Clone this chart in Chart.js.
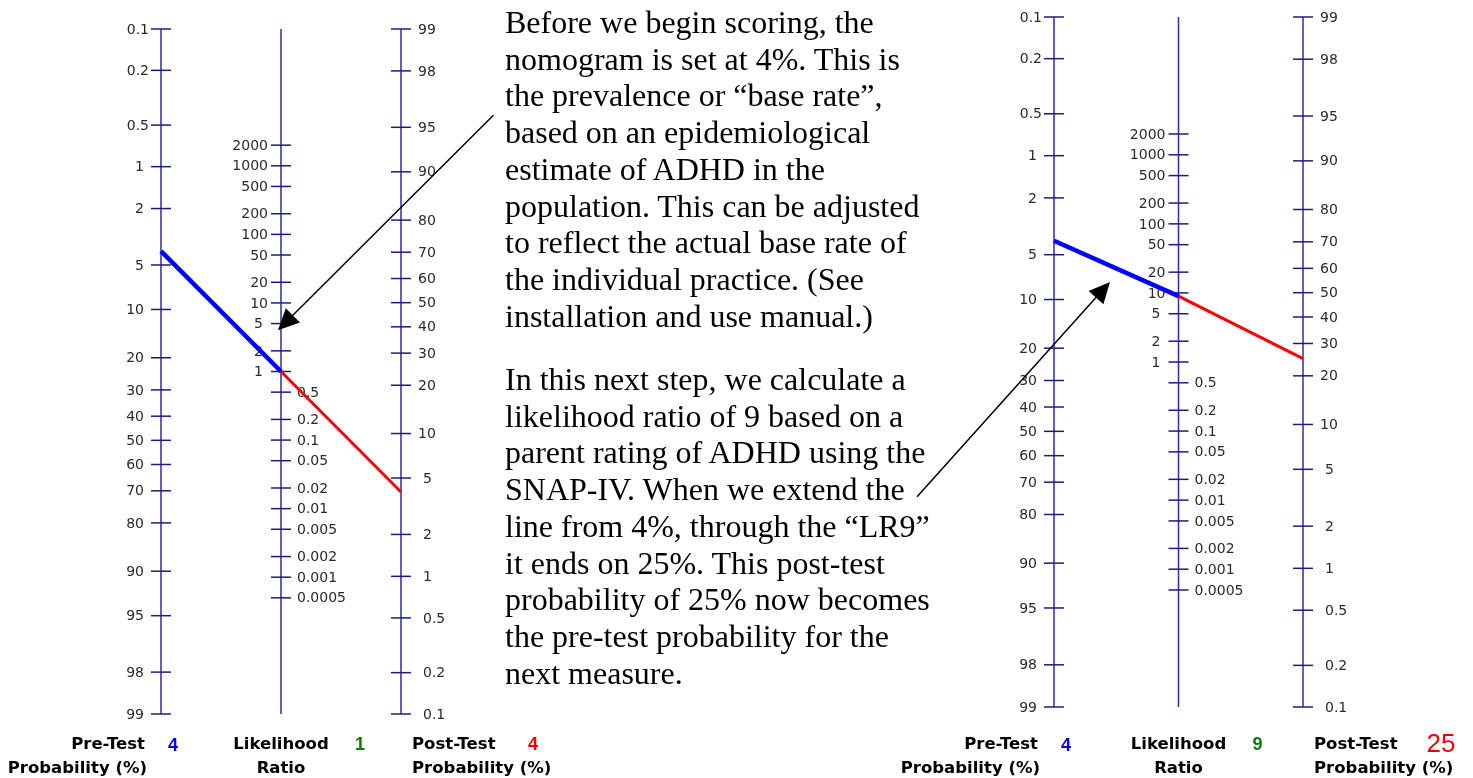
<!DOCTYPE html>
<html>
<head>
<meta charset="utf-8">
<script src="https://cdn.jsdelivr.net/npm/chart.js@4.4.1/dist/chart.umd.min.js"></script>
<style>
    html, body { margin: 0; padding: 0; background: #fff; }
    body { width: 1473px; height: 778px; position: relative; overflow: hidden; }
    canvas { position: absolute; top: 0; }
    #nomo-left { left: 0; }
    #nomo-right { left: 880px; }
    .note {
        position: absolute;
        left: 505px;
        z-index: 1;
        font: 32px "Liberation Serif", "Times New Roman", serif;
        line-height: 36.7px;
        white-space: pre;
        color: #000;
    }
</style>
</head>
<body>
<canvas id="nomo-left" width="570" height="778"></canvas>
<canvas id="nomo-right" width="593" height="778"></canvas>
<div class="note" style="top:4px">Before we begin scoring, the
nomogram is set at 4%. This is
the prevalence or “base rate”,
based on an epidemiological
estimate of ADHD in the
population. This can be adjusted
to reflect the actual base rate of
the individual practice. (See
installation and use manual.)</div>
<div class="note" style="top:361px">In this next step, we calculate a
likelihood ratio of 9 based on a
parent rating of ADHD using the
SNAP-IV. When we extend the
line from 4%, through the “LR9”
it ends on 25%. This post-test
probability of 25% now becomes
the pre-test probability for the
next measure.</div>
<script>
// Scale graduations, read top to bottom on each axis
const PRE_TICKS = [0.1, 0.2, 0.5, 1, 2, 5, 10, 20, 30, 40, 50, 60, 70, 80, 90, 95, 98, 99];
const LR_TICKS = [2000, 1000, 500, 200, 100, 50, 20, 10, 5, 2, 1,
    0.5, 0.2, 0.1, 0.05, 0.02, 0.01, 0.005, 0.002, 0.001, 0.0005];
const POST_TICKS = [99, 98, 95, 90, 80, 70, 60, 50, 40, 30, 20, 10, 5, 2, 1, 0.5, 0.2, 0.1];

// Readings of the two nomograms: [left = starting point, right = after the SNAP-IV]
const PRE_TEST = [4, 4];
const LIKELIHOOD = [1, 9];
const POST_TEST = [4, 25];

const AXIS_COLOR = '#2e2ea6';
const TICK_COLOR = '#1c1c7c';
const TEXT_COLOR = '#2a2a2a';
const TICK_FONT = '14px "DejaVu Sans", sans-serif';
const LABEL_FONT = 'bold 16.5px "DejaVu Sans", sans-serif';
const VALUE_FONT = 'bold 18px "Liberation Sans", Arial, sans-serif';

/**
 * Fagan geometry. Everything lives on one vertical unit (log-odds, growing downward):
 * the post-test scale is flipped and shifted so that 99 sits level with 0.1,
 * and the LR scale lies half way, which keeps pre -> LR -> post on one straight line.
 */
const logit = p => Math.log(p / (100 - p));
const Y_TOP = logit(PRE_TICKS[0]);
const Y_BOTTOM = logit(PRE_TICKS[PRE_TICKS.length - 1]);
const POST_SHIFT = Y_TOP + Y_BOTTOM;
const preY = p => logit(p);
const postY = p => POST_SHIFT - logit(p);
const lrY = lr => (POST_SHIFT - Math.log(lr)) / 2;

function tickPoints() {
    const pre = PRE_TICKS.map(v => ({
        x: 0, y: preY(v), text: String(v), side: 'left', gap: String(v).includes('.') ? 12 : 17
    }));
    const lr = LR_TICKS.map(v => v >= 1
        ? { x: 1, y: lrY(v), text: String(v), side: 'left', gap: String(v).length >= 2 ? 13 : 18 }
        : { x: 1, y: lrY(v), text: String(v), side: 'right', gap: 16 });
    const post = POST_TICKS.map(v => ({
        x: 2, y: postY(v), text: String(v), side: 'right', gap: Number.isInteger(v) && v >= 10 ? 17 : 22
    }));
    return [...pre, ...lr, ...post];
}

// Tick labels go under the reading line, as on the original printout
const tickLabels = {
    id: 'tickLabels',
    beforeDatasetsDraw(chart) {
        const { ctx, scales: { x, y } } = chart;
        const ticks = chart.data.datasets.find(d => d.id === 'ticks').data;
        ctx.save();
        ctx.font = TICK_FONT;
        ctx.fillStyle = TEXT_COLOR;
        ctx.textBaseline = 'middle';
        for (const t of ticks) {
            const px = x.getPixelForValue(t.x);
            const py = y.getPixelForValue(t.y);
            ctx.textAlign = t.side === 'left' ? 'right' : 'left';
            ctx.fillText(t.text, t.side === 'left' ? px - t.gap : px + t.gap, py + 1);
        }
        ctx.restore();
    }
};

const arrows = {
    id: 'arrows',
    afterDatasetsDraw(chart, args, opts) {
        const { ctx, scales: { x, y } } = chart;
        ctx.save();
        ctx.strokeStyle = '#000';
        ctx.fillStyle = '#000';
        ctx.lineWidth = 1.5;
        for (const a of opts.items || []) {
            const x0 = x.getPixelForValue(a.from[0]), y0 = y.getPixelForValue(a.from[1]);
            const x1 = x.getPixelForValue(a.to[0]), y1 = y.getPixelForValue(a.to[1]);
            const len = Math.hypot(x1 - x0, y1 - y0);
            const ux = (x1 - x0) / len, uy = (y1 - y0) / len;
            const head = 21, half = 10;
            const bx = x1 - ux * head, by = y1 - uy * head;
            ctx.beginPath();
            ctx.moveTo(x0, y0);
            ctx.lineTo(bx, by);
            ctx.stroke();
            ctx.beginPath();
            ctx.moveTo(x1, y1);
            ctx.lineTo(bx - uy * half, by + ux * half);
            ctx.lineTo(bx + uy * half, by - ux * half);
            ctx.closePath();
            ctx.fill();
        }
        ctx.restore();
    }
};

// Captions and current readings under the three scales
const footer = {
    id: 'footer',
    afterDraw(chart, args, opts) {
        const { ctx, scales: { x } } = chart;
        const [c0, c1, c2] = [0, 1, 2].map(v => x.getPixelForValue(v));
        const r1 = 745, r2 = 769;
        ctx.save();
        ctx.textBaseline = 'middle';
        ctx.fillStyle = '#000';
        ctx.font = LABEL_FONT;
        ctx.textAlign = 'right';
        ctx.fillText('Pre-Test', c0 - 16, r1);
        ctx.fillText('Probability (%)', c0 - 14, r2);
        ctx.textAlign = 'center';
        ctx.fillText('Likelihood', c1, r1);
        ctx.fillText('Ratio', c1, r2);
        ctx.textAlign = 'left';
        ctx.fillText('Post-Test', c2 + 11, r1);
        ctx.fillText('Probability (%)', c2 + 11, r2);

        ctx.textAlign = 'center';
        ctx.font = VALUE_FONT;
        ctx.fillStyle = '#0000ee';
        ctx.fillText(String(opts.pre), c0 + 12, r1 + 1);
        ctx.fillStyle = '#0a7a0a';
        ctx.fillText(String(opts.lr), c1 + 79, r1);
        ctx.fillStyle = '#ee0000';
        ctx.font = opts.postFont || VALUE_FONT;
        ctx.fillText(String(opts.post), c2 + (opts.postOffset || 132), r1);
        ctx.restore();
    }
};

/**
 * One nomogram on one canvas. layout gives the pixel columns of the three scales
 * and the pixel rows of their ends; the scales map data units onto them.
 */
function nomogram(canvas, i, layout) {
    const [left, , right] = layout.columns;
    const pre = PRE_TEST[i], lr = LIKELIHOOD[i], post = POST_TEST[i];
    const axis = col => ({
        type: 'line', order: 3, data: [{ x: col, y: Y_TOP }, { x: col, y: Y_BOTTOM }],
        borderColor: AXIS_COLOR, borderWidth: 1.5, pointRadius: 0, clip: false
    });

    return new Chart(canvas, {
        type: 'scatter',
        data: {
            datasets: [
                {
                    type: 'line', order: 0, data: [{ x: 0, y: preY(pre) }, { x: 1, y: lrY(lr) }],
                    borderColor: '#0000ff', borderWidth: 4.5, pointRadius: 0, clip: false
                },
                {
                    type: 'line', order: 1, data: [{ x: 1, y: lrY(lr) }, { x: 2, y: postY(post) }],
                    borderColor: '#ff0000', borderWidth: 3, pointRadius: 0, clip: false
                },
                {
                    id: 'ticks', order: 2, data: tickPoints(),
                    pointStyle: 'line', pointRadius: 10, borderColor: TICK_COLOR, borderWidth: 1.5, clip: false
                },
                axis(0), axis(1), axis(2)
            ]
        },
        options: {
            responsive: false,
            animation: false,
            devicePixelRatio: 1,
            events: [],
            layout: {
                padding: {
                    left: left - layout.canvasLeft,
                    right: layout.canvasLeft + canvas.width - right,
                    top: layout.top,
                    bottom: canvas.height - layout.bottom
                }
            },
            scales: {
                x: { type: 'linear', min: 0, max: 2, display: false },
                y: { type: 'linear', min: Y_TOP, max: Y_BOTTOM, reverse: true, display: false }
            },
            plugins: {
                legend: { display: false },
                tooltip: { enabled: false },
                arrows: { items: layout.arrows },
                footer: { pre, lr, post, postFont: layout.postFont, postOffset: layout.postOffset }
            }
        },
        plugins: [tickLabels, arrows, footer]
    });
}

nomogram(document.getElementById('nomo-left'), 0, {
    canvasLeft: 0, columns: [161, 281, 401], top: 29, bottom: 714,
    // arrow ends in data units (column, log-odds)
    arrows: [{ from: [2.77, -5.46], to: [0.975, -1.85] }]
});

nomogram(document.getElementById('nomo-right'), 1, {
    canvasLeft: 880, columns: [1054, 1178.5, 1303], top: 17, bottom: 707,
    arrows: [{ from: [-1.10, 1.09], to: [0.45, -2.49] }],
    postFont: '26px "Liberation Sans", Arial, sans-serif', postOffset: 138
});
</script>
</body>
</html>
